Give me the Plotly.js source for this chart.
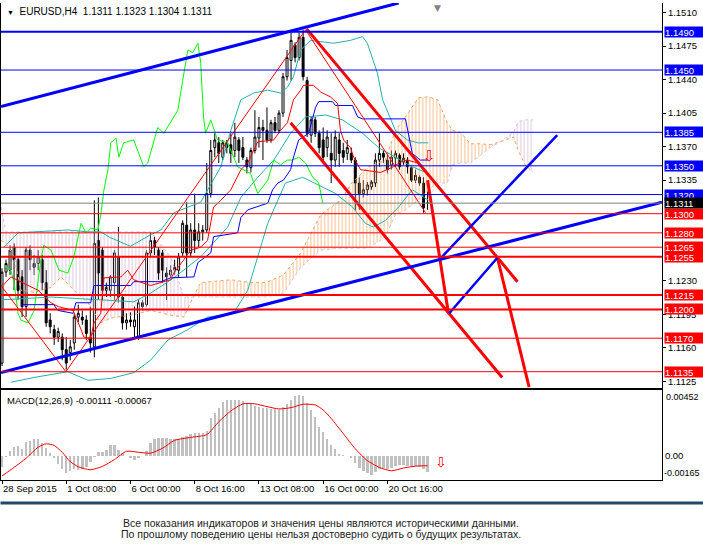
<!DOCTYPE html>
<html><head><meta charset="utf-8">
<script src="https://cdn.plot.ly/plotly-3.0.1.min.js"></script>
<style>html,body{margin:0;padding:0;background:#fff}#chart{width:703px;height:552px}</style>
</head><body><div id="chart"></div>
<script>
// ---------- candles (H4 bars, index 0..106) ----------
const open = [
1.1144,1.1239,1.1241,1.1265,1.1252,1.1234,1.1203,1.1262,1.1248,1.1248,
1.1252,1.1228,1.1189,1.1179,1.1171,1.1171,1.1158,1.1155,1.1165,1.1192,
1.1192,1.1189,1.1171,1.1161,1.1272,1.1262,1.1220,1.1220,1.1228,1.1255,
1.1213,1.1186,1.1189,1.1182,1.1171,1.1207,1.1205,1.1259,1.1272,1.1262,
1.1259,1.1238,1.1236,1.1241,1.1241,1.1259,1.1288,1.1259,1.1283,1.1272,
1.1281,1.1283,1.1321,1.1369,1.1374,1.1359,1.1374,1.1372,1.1366,1.1377,
1.1369,1.1356,1.1348,1.1366,1.1379,1.1390,1.1387,1.1377,1.1395,1.1387,
1.1405,1.1443,1.1460,1.1476,1.1463,1.1484,1.1439,1.1382,1.1398,1.1384,
1.1377,1.1369,1.1363,1.1356,1.1377,1.1366,1.1363,1.1363,1.1356,1.1332,
1.1321,1.1325,1.1328,1.1332,1.1356,1.1363,1.1356,1.1351,1.1358,1.1361,
1.1354,1.1356,1.1348,1.1335,1.1338,1.1332,1.1311];
const high = [
1.1243,1.1252,1.1267,1.1269,1.1255,1.1241,1.1265,1.1267,1.1257,1.1262,
1.1257,1.1241,1.1196,1.1184,1.1181,1.1175,1.1171,1.1168,1.1196,1.1205,
1.1199,1.1194,1.1203,1.1314,1.1317,1.1265,1.1228,1.1236,1.1262,1.1286,
1.1215,1.1196,1.1197,1.1203,1.1210,1.1210,1.1262,1.1280,1.1276,1.1265,
1.1262,1.1244,1.1246,1.1252,1.1259,1.1293,1.1312,1.1290,1.1321,1.1290,
1.1288,1.1353,1.1377,1.1384,1.1380,1.1377,1.1377,1.1384,1.1395,1.1380,
1.1380,1.1359,1.1369,1.1408,1.1401,1.1398,1.1411,1.1398,1.1401,1.1408,
1.1447,1.1471,1.1489,1.1479,1.1489,1.1492,1.1443,1.1401,1.1401,1.1387,
1.1390,1.1387,1.1384,1.1387,1.1384,1.1374,1.1377,1.1369,1.1359,1.1338,
1.1335,1.1333,1.1335,1.1363,1.1384,1.1366,1.1363,1.1366,1.1366,1.1363,
1.1363,1.1359,1.1349,1.1346,1.1340,1.1338,1.1323];
const low = [
1.1141,1.1234,1.1236,1.1220,1.1210,1.1192,1.1192,1.1241,1.1236,1.1241,
1.1220,1.1182,1.1175,1.1163,1.1166,1.1147,1.1137,1.1147,1.1158,1.1187,
1.1184,1.1168,1.1155,1.1150,1.1210,1.1210,1.1213,1.1213,1.1210,1.1207,
1.1179,1.1179,1.1182,1.1171,1.1168,1.1199,1.1203,1.1255,1.1257,1.1231,
1.1228,1.1210,1.1233,1.1236,1.1234,1.1255,1.1234,1.1255,1.1259,1.1265,
1.1272,1.1280,1.1317,1.1359,1.1353,1.1356,1.1363,1.1353,1.1359,1.1353,
1.1356,1.1342,1.1343,1.1363,1.1369,1.1356,1.1374,1.1374,1.1384,1.1384,
1.1401,1.1439,1.1439,1.1458,1.1460,1.1439,1.1380,1.1374,1.1380,1.1363,
1.1353,1.1359,1.1332,1.1349,1.1349,1.1353,1.1356,1.1353,1.1304,1.1304,
1.1317,1.1319,1.1325,1.1328,1.1349,1.1353,1.1342,1.1346,1.1349,1.1346,
1.1351,1.1342,1.1333,1.1332,1.1329,1.1301,1.1304];
const close = [
1.1239,1.1248,1.1262,1.1252,1.1220,1.1203,1.1262,1.1252,1.1244,1.1255,
1.1228,1.1186,1.1182,1.1171,1.1177,1.1158,1.1144,1.1161,1.1192,1.1196,
1.1189,1.1175,1.1165,1.1269,1.1238,1.1220,1.1223,1.1234,1.1259,1.1213,
1.1186,1.1189,1.1187,1.1189,1.1207,1.1203,1.1259,1.1272,1.1265,1.1238,
1.1241,1.1234,1.1241,1.1244,1.1255,1.1290,1.1259,1.1283,1.1272,1.1281,
1.1283,1.1321,1.1366,1.1377,1.1363,1.1374,1.1369,1.1363,1.1380,1.1366,
1.1359,1.1349,1.1366,1.1380,1.1390,1.1387,1.1377,1.1395,1.1387,1.1405,
1.1443,1.1463,1.1481,1.1463,1.1484,1.1443,1.1384,1.1398,1.1384,1.1369,
1.1359,1.1380,1.1356,1.1380,1.1363,1.1359,1.1369,1.1356,1.1332,1.1321,
1.1325,1.1330,1.1333,1.1356,1.1363,1.1359,1.1346,1.1359,1.1363,1.1349,
1.1358,1.1349,1.1335,1.1340,1.1332,1.1306,1.1311];

// ---------- time axis ----------
const timeTickBars = [0,16,32,48,64,80,96];
const timeTickText = ['28 Sep 2015','1 Oct 08:00','6 Oct 00:00','8 Oct 16:00','13 Oct 08:00','16 Oct 00:00','20 Oct 16:00'];

// ---------- price axis ticks ----------
const priceTicks = [1.1510,1.1475,1.1440,1.1405,1.1370,1.1335,1.1230,1.1195,1.1160,1.1125];

// ---------- Bollinger bands ----------
const bbUpperX = [0.5,4,8,16.4,21.4,24.6,27,32,37,39.6,42.8,49.5,54.5,57,59.5,62.7,66.2,69.4,71.1,72.6,74.4,76.9,82.6,86.8,89.8,91,93.5,94.8,98,101,103.5,106.2];
const bbUpper  = [1.1265,1.1280,1.1281,1.1283,1.1281,1.1281,1.1275,1.1266,1.1278,1.1283,1.1301,1.1312,1.1349,1.1387,1.1419,1.1426,1.1429,1.1426,1.1432,1.1443,1.1471,1.1481,1.1478,1.1481,1.1485,1.1478,1.1447,1.1419,1.1387,1.1377,1.1374,1.1374];
const bbMidX = [-0.2,12.2,24.6,32.8,37,42.8,49.5,56.2,59.5,63.7,67.7,71.9,75.6,80.6,84.8,89.8,93.8,98,102.2,106.2];
const bbMid  = [1.1210,1.1213,1.1210,1.1208,1.1217,1.1233,1.1255,1.1286,1.1317,1.1338,1.1356,1.1384,1.1401,1.1403,1.1398,1.1384,1.1369,1.1359,1.1349,1.1342];
const bbLowX = [2.2,8,16.4,21.4,27.1,32.8,37,41.3,46.3,51.2,57.7,61.2,63.7,66.2,68.7,70.6,74.9,79.9,83.1,87.3,90.5,92.5,95.5,98.8,102.2,106.2];
const bbLow  = [1.1124,1.1129,1.1135,1.1126,1.1128,1.1134,1.1147,1.1168,1.1179,1.1192,1.1196,1.1220,1.1255,1.1290,1.1314,1.1332,1.1338,1.1328,1.1321,1.1307,1.1290,1.1286,1.1293,1.1307,1.1325,1.1314];

// ---------- Ichimoku ----------
const tenkanX = [-0.2,2.2,9,12.2,14,17.7,19.7,20.4,22.1,22.9,24.6,25.4,29.6,31.3,32.8,37,42,42.8,45.3,47,49.5,51.2,52.7,54.5,57,59.5,61.2,62.7,63.7,67.7,69.4,71.1,72.6,74.4,75.1,77.6,79.4,81.8,83.6,84.3,85.1,86.8,87.6,89.3,94.3,97.5,99.3,101,103.5,106.2];
const tenkan  = [1.1223,1.1234,1.1220,1.1207,1.1203,1.1199,1.1179,1.1171,1.1170,1.1186,1.1196,1.1233,1.1234,1.1241,1.1231,1.1225,1.1231,1.1238,1.1252,1.1262,1.1265,1.1272,1.1307,1.1314,1.1325,1.1346,1.1353,1.1366,1.1375,1.1377,1.1387,1.1395,1.1419,1.1429,1.1434,1.1434,1.1427,1.1422,1.1415,1.1387,1.1377,1.1369,1.1359,1.1346,1.1343,1.1349,1.1354,1.1356,1.1353,1.1342];
const kijunX = [4.7,12.9,13.9,17.7,18.4,22.1,22.9,32.1,32.8,39.6,42,47.8,48.8,52,52.7,58.7,59.5,61.2,66.2,67.4,68.7,70.1,71.9,72.4,73.9,76.4,78.1,78.9,82.3,83.1,87.3,88.6,89.8,100.5,102.2,104.2,106.2];
const kijun  = [1.1205,1.1205,1.1199,1.1196,1.1207,1.1207,1.1225,1.1225,1.1229,1.1229,1.1233,1.1234,1.1249,1.1259,1.1276,1.1280,1.1296,1.1304,1.1311,1.1325,1.1332,1.1335,1.1346,1.1356,1.1377,1.1384,1.1411,1.1417,1.1417,1.1413,1.1413,1.1401,1.1399,1.1399,1.1363,1.1356,1.1356];
const chikouX = [0.5,2.2,3,4,4.7,6.5,8,9.7,10.4,12.2,14.2,16.4,17.9,19.7,20.9,22.1,23.9,24.6,25.4,26.4,27.1,28.4,29.1,30.3,32.8,35.3,36.3,38.8,40.3,42,43.8,45,46.3,47.5,48.8,49.5,50.2,50.7,52,53.7,56.2,58.7,61.9,63.7,66.2,67.7,69.4,71.1,72.4,73.9,75.6,77.4,78.9,79.9];
const chikou  = [1.1246,1.1241,1.1228,1.1196,1.1189,1.1186,1.1199,1.1252,1.1267,1.1262,1.1241,1.1238,1.1255,1.1290,1.1280,1.1285,1.1283,1.1299,1.1325,1.1346,1.1374,1.1379,1.1359,1.1374,1.1377,1.1349,1.1353,1.1390,1.1384,1.1395,1.1408,1.1439,1.1471,1.1468,1.1478,1.1457,1.1401,1.1384,1.1398,1.1377,1.1374,1.1349,1.1342,1.1321,1.1335,1.1356,1.1351,1.1356,1.1356,1.1359,1.1353,1.1338,1.1332,1.1311];
const cloudX = [-0.25,1.0,3.0,4.7,8.0,12.2,14.7,17.9,21.4,24.6,27.1,32.1,37.1,42.0,45.3,47.5,49.5,57.0,61.9,65.7,70.1,74.4,79.4,84.3,87.3,91.3,95.5,98.0,100.5,103.7,106.2,108.5,110.9,112.2,114.2,116.7,119.2,121.6,124.1,127.4,128.6,130.3,132.3];
const spanA = [1.1272,1.1269,1.1255,1.1220,1.1218,1.1223,1.1234,1.1220,1.1207,1.1186,1.1191,1.1194,1.1199,1.1194,1.1192,1.1212,1.1228,1.1231,1.1228,1.1228,1.1236,1.1259,1.1299,1.1314,1.1333,1.1349,1.1356,1.1387,1.1401,1.1421,1.1422,1.1419,1.1395,1.1387,1.1385,1.1373,1.1373,1.1372,1.1375,1.1380,1.1366,1.1351,1.1343];
const spanB = [1.1307,1.1281,1.1281,1.1281,1.1281,1.1281,1.1281,1.1281,1.1281,1.1281,1.1281,1.1281,1.1281,1.1255,1.1213,1.1213,1.1213,1.1213,1.1213,1.1213,1.1217,1.1244,1.1262,1.1264,1.1264,1.1264,1.1276,1.1299,1.1304,1.1314,1.1325,1.1332,1.1332,1.1351,1.1353,1.1353,1.1361,1.1369,1.1375,1.1385,1.1396,1.1398,1.1398];

// ---------- levels & trend lines ----------
const blueLevels = [1.1490,1.1450,1.1385,1.1350,1.1320];
const redLevels  = [1.1300,1.1280,1.1265,1.1255,1.1215,1.1200,1.1170,1.1135];
const lastPrice  = 1.1311;
const blueTrendX = [[-0.25,98.8],[-0.25,164.4],[108.7,138.3],[111.4,123.4]];
const blueTrendY = [[1.1412,1.1520],[1.1134,1.1312],[1.1251,1.1382],[1.1196,1.1254]];
const redTrendX  = [[75.9,128.4],[71.9,124.6],[106.0,111.2],[123.4,131.3]];
const redTrendY  = [[1.1493,1.1229],[1.1395,1.1129],[1.1335,1.1196],[1.1254,1.1119]];
const thinTrendX = [[15.9,75.6],[-0.25,15.9],[75.6,105.5]];
const thinTrendY = [[1.1135,1.1492],[1.1225,1.1135],[1.1492,1.1301]];

// ---------- MACD ----------
const macdHist = [
-0.00079,-0.00005,0.00032,0.00058,0.00065,0.00049,0.00093,0.00104,0.00116,0.00114,
0.00090,0.00053,0.00019,-0.00016,-0.00058,-0.00090,-0.00118,-0.00104,-0.00090,-0.00093,
-0.00088,-0.00076,-0.00039,-0.00007,0.00025,0.00030,0.00042,0.00072,0.00076,0.00044,
0.00019,0.00002,-0.00014,-0.00025,-0.00016,0.00002,0.00032,0.00090,0.00118,0.00125,
0.00125,0.00123,0.00118,0.00114,0.00118,0.00127,0.00134,0.00148,0.00155,0.00158,
0.00158,0.00169,0.00257,0.00292,0.00331,0.00368,0.00382,0.00385,0.00385,0.00382,
0.00378,0.00366,0.00354,0.00345,0.00336,0.00331,0.00327,0.00324,0.00320,0.00317,
0.00334,0.00354,0.00385,0.00408,0.00419,0.00410,0.00361,0.00313,0.00266,0.00199,
0.00165,0.00118,0.00072,0.00049,0.00016,0.00007,-0.00001,-0.00016,-0.00049,-0.00081,
-0.00102,-0.00120,-0.00132,-0.00109,-0.00090,-0.00081,-0.00088,-0.00081,-0.00072,-0.00065,
-0.00063,-0.00067,-0.00072,-0.00067,-0.00076,-0.00090,-0.00111];
const signalX = [0,3,6,9,11,13,15,17,19,22,25,28,31,34,37,40,43,47,51,54,57,60,63,66,69,72,75,78,80,82,85,88,91,94,97,100,103,106];
const signal  = [-0.00137,-0.00079,-0.00016,0.00060,0.00083,0.00072,0.00025,-0.00039,-0.00074,-0.00095,-0.00072,-0.00025,0.00032,0.00025,0.00019,0.00053,0.00107,0.00127,0.00146,0.00234,0.00308,0.00357,0.00357,0.00338,0.00322,0.00331,0.00354,0.00350,0.00315,0.00257,0.00153,0.00049,-0.00032,-0.00079,-0.00102,-0.00083,-0.00070,-0.00067];
const macdMax = 0.00452, macdMin = -0.00165;

// ---------- texts ----------
const headerText = 'EURUSD,H4&nbsp; 1.1311 1.1323 1.1304 1.1311';
const macdText = 'MACD(12,26,9) -0.00111 -0.00067';
const disclaimer = ['Все показания индикаторов и значения цены являются историческими данными.',
                    'По прошлому поведению цены нельзя достоверно судить о будущих результатах.'];

// =============== build ===============
const bars = open.map((_, i) => i);
const FONT = 'Liberation Sans, Arial, sans-serif';
const traces = [];
const base = {mode:'lines', hoverinfo:'skip', showlegend:false, xaxis:'x', yaxis:'y'};

function cloudSeg(s, e, color) {
  traces.push(Object.assign({}, base, {x: cloudX.slice(s, e + 1), y: spanA.slice(s, e + 1), line:{width:0}}));
  traces.push(Object.assign({}, base, {x: cloudX.slice(s, e + 1), y: spanB.slice(s, e + 1), line:{width:0},
    fill:'tonexty', fillcolor:'rgba(255,255,255,0)',
    fillpattern:{shape:'|', fgcolor: color, size:3.5, solidity:0.28}}));
}
cloudSeg(0, 15, 'rgba(216,191,216,0.85)');
cloudSeg(15, 38, 'rgba(244,164,96,0.75)');
cloudSeg(38, 42, 'rgba(216,191,216,0.85)');
traces.push(Object.assign({}, base, {x: cloudX, y: spanA, line:{color:'#F4A460', width:1, dash:'dot'}}));
traces.push(Object.assign({}, base, {x: cloudX, y: spanB, line:{color:'#D8BFD8', width:1, dash:'dot'}}));

traces.push(Object.assign({}, base, {x: bbUpperX, y: bbUpper, line:{color:'#20B2AA', width:1}}));
traces.push(Object.assign({}, base, {x: bbMidX, y: bbMid, line:{color:'#20B2AA', width:1}}));
traces.push(Object.assign({}, base, {x: bbLowX, y: bbLow, line:{color:'#20B2AA', width:1}}));
traces.push(Object.assign({}, base, {x: chikouX, y: chikou, line:{color:'#00FF00', width:1}}));
traces.push(Object.assign({}, base, {x: kijunX, y: kijun, line:{color:'#0000FF', width:1}}));
traces.push(Object.assign({}, base, {x: tenkanX, y: tenkan, line:{color:'#FF0000', width:1}}));

traces.push({type:'candlestick', x: bars, open, high, low, close, xaxis:'x', yaxis:'y',
  increasing:{line:{color:'#000', width:1}, fillcolor:'#FFFFFF'},
  decreasing:{line:{color:'#000', width:1}, fillcolor:'#000000'},
  whiskerwidth:0, hoverinfo:'skip', showlegend:false});

thinTrendX.forEach((xx, i) => traces.push(Object.assign({}, base, {x: xx, y: thinTrendY[i], line:{color:'#FF0000', width:1}})));
redTrendX.forEach((xx, i) => traces.push(Object.assign({}, base, {x: xx, y: redTrendY[i], line:{color:'#FF0000', width:3}})));
blueTrendX.forEach((xx, i) => traces.push(Object.assign({}, base, {x: xx, y: blueTrendY[i], line:{color:'#0000FF', width: i < 2 ? 3 : 2.5}})));

traces.push({type:'bar', x: bars, y: macdHist, width:0.6, marker:{color:'#C0C0C0', line:{width:0}},
  xaxis:'x2', yaxis:'y2', hoverinfo:'skip', showlegend:false});
traces.push({mode:'lines', x: signalX, y: signal, line:{color:'#FF0000', width:1, shape:'spline', smoothing:0.6},
  xaxis:'x2', yaxis:'y2', hoverinfo:'skip', showlegend:false});

const shapes = [];
const annotations = [];
const thick = new Set([1.1490, 1.1255, 1.1215, 1.1200]);
function levelLabel(v, bg) {
  annotations.push({xref:'paper', x:1, xanchor:'left', xshift:2, yref:'y', y:v, yanchor:'middle',
    text: v.toFixed(4), showarrow:false, bgcolor: bg, font:{family:FONT, size:9.5, color:'#FFFFFF'},
    width:40, height:10, align:'left', borderpad:0});
}
function level(v, color) {
  shapes.push({type:'line', xref:'paper', x0:0, x1:1, yref:'y', y0:v, y1:v,
    line:{color: color, width: thick.has(v) ? 2 : 1}, layer:'above'});
  levelLabel(v, color);
}
shapes.push({type:'line', xref:'paper', x0:0, x1:1, yref:'y', y0:lastPrice, y1:lastPrice, line:{color:'#808080', width:1}});
blueLevels.forEach(v => level(v, '#0000FF'));
redLevels.forEach(v => level(v, '#FF0000'));
levelLabel(lastPrice, '#000000');

// headers
annotations.push({xref:'paper', x:0, xanchor:'left', xshift:4, yref:'paper', y:1, yanchor:'top', yshift:-1,
  text:'<span style="font-size:7px">▼</span>&nbsp; ' + headerText, showarrow:false, font:{family:FONT, size:10, color:'#000'}});
annotations.push({xref:'x', x:108.5, yref:'paper', y:1, yanchor:'top', yshift:2, text:'▼', showarrow:false,
  font:{family:'DejaVu Sans', size:9, color:'#808080'}});
annotations.push({xref:'paper', x:0, xanchor:'left', xshift:4, yref:'paper', y:0.1887, yanchor:'top', yshift:-3,
  text: macdText, showarrow:false, font:{family:FONT, size:9.5, color:'#000'}});
// macd extreme labels (drawn inside the panel's height, as the terminal does)
annotations.push({xref:'paper', x:1, xanchor:'left', xshift:2, yref:'y2', y:macdMax, yanchor:'top', text: macdMax.toFixed(5),
  showarrow:false, font:{family:FONT, size:9, color:'#000'}});
annotations.push({xref:'paper', x:1, xanchor:'left', xshift:0, yref:'y2', y:macdMin, yanchor:'bottom', text: macdMin.toFixed(5),
  showarrow:false, font:{family:FONT, size:9, color:'#000'}});
// arrows
annotations.push({xref:'x', x:106.4, yref:'y', y:1.1360, text:'⇩', showarrow:false, font:{family:'DejaVu Sans', size:15, color:'#FF0000'}});
annotations.push({xref:'x2', x:109.3, yref:'y2', y:-0.00045, text:'⇩', showarrow:false, font:{family:'DejaVu Sans', size:14, color:'#FF0000'}});
// disclaimer
annotations.push({xref:'paper', x:0.484, xanchor:'center', yref:'paper', y:-0.0901, yanchor:'middle', text:disclaimer[0],
  showarrow:false, font:{family:FONT, size:10.5, color:'#222'}});
annotations.push({xref:'paper', x:0.484, xanchor:'center', yref:'paper', y:-0.1142, yanchor:'middle', text:disclaimer[1],
  showarrow:false, font:{family:FONT, size:10.5, color:'#222'}});
// separator bar under the time scale
annotations.push({xref:'paper', x:-0.0015, xanchor:'left', yref:'paper', y:-0.0482, yanchor:'middle', text:'',
  showarrow:false, width:703, height:2, bgcolor:'#1E4A66', borderpad:0, font:{size:1}});

const layout = {
  width:703, height:552, margin:{l:1, r:41, t:3, b:72},
  paper_bgcolor:'#FFFFFF', plot_bgcolor:'#FFFFFF', showlegend:false,
  font:{family:FONT, size:9.5, color:'#000'},
  xaxis:{domain:[0,1], range:[-0.25,164.4], anchor:'y', showticklabels:false, ticks:'', showgrid:false, zeroline:false,
    showline:true, mirror:false, linecolor:'#000', linewidth:1, rangeslider:{visible:false}, fixedrange:true},
  yaxis:{domain:[0.1929,1], range:[1.1118,1.1520], side:'right', anchor:'x', tickvals:priceTicks, tickformat:'.4f',
    ticks:'outside', ticklen:3, tickcolor:'#000', showgrid:false, zeroline:false, showline:true, mirror:true, linecolor:'#000', fixedrange:true},
  xaxis2:{domain:[0,1], range:[-0.25,164.4], anchor:'y2', tickvals:timeTickBars, ticktext:timeTickText, ticks:'outside', ticklen:3,
    tickcolor:'#000', ticklabelposition:'outside right', showgrid:false, zeroline:false, showline:true, mirror:true, linecolor:'#000', fixedrange:true},
  yaxis2:{domain:[0,0.1887], range:[macdMin, macdMax], side:'right', anchor:'x2', tickvals:[0], ticktext:['0.00'], ticks:'',
    showgrid:false, zeroline:false, showline:true, mirror:true, linecolor:'#000', fixedrange:true},
  bargap:0, shapes, annotations
};
Plotly.newPlot('chart', traces, layout, {staticPlot:true, displayModeBar:false});
</script></body></html>
